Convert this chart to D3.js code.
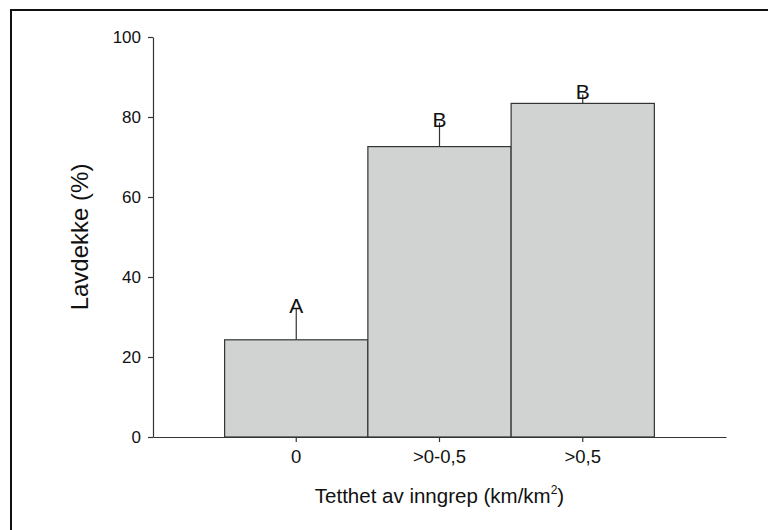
<!DOCTYPE html>
<html>
<head>
<meta charset="utf-8">
<script src="https://cdn.jsdelivr.net/npm/d3@7"></script>
<style>
  html, body { margin: 0; padding: 0; background: #fff; }
  svg { display: block; font-family: "Liberation Sans", Arial, sans-serif; }
</style>
</head>
<body>
<svg id="chart" width="768" height="530"></svg>
<script>
// Lichen cover by density of infrastructure
const categories = ["0", ">0-0,5", ">0,5"];
const means = [24.3, 72.6, 83.4];
const errUpper = [7.7, 6.0, 2.2];
const groupLetters = ["A", "B", "B"];
const yTicks = [0, 20, 40, 60, 80, 100];

const svg = d3.select("#chart");
const W = 768, H = 530;
const plotLeft = 153, plotRight = 726, plotTop = 37, plotBottom = 437;
const fontFam = "Liberation Sans, Arial, sans-serif";

// Outer frame
svg.append("rect")
  .attr("x", 11).attr("y", 10)
  .attr("width", W + 10).attr("height", H + 10)
  .attr("fill", "none").attr("stroke", "#111").attr("stroke-width", 2);

const x = d3.scaleBand().domain(categories).range([plotLeft, plotRight])
  .paddingInner(0).paddingOuter(0.5);
const y = d3.scaleLinear().domain([0, 100]).range([plotBottom, plotTop]);

const ink = "#333";

// Bars
svg.append("g").selectAll("rect").data(categories).join("rect")
  .attr("x", d => x(d))
  .attr("y", (d, i) => y(means[i]))
  .attr("width", x.bandwidth())
  .attr("height", (d, i) => y(0) - y(means[i]))
  .attr("fill", "#d1d3d3")
  .attr("stroke", ink).attr("stroke-width", 1.2);

// Upper error bars
svg.append("g").selectAll("line").data(categories).join("line")
  .attr("x1", d => x(d) + x.bandwidth() / 2)
  .attr("x2", d => x(d) + x.bandwidth() / 2)
  .attr("y1", (d, i) => y(means[i]))
  .attr("y2", (d, i) => y(means[i] + errUpper[i]))
  .attr("stroke", ink).attr("stroke-width", 1.2);

// Group letters
svg.append("g").selectAll("text").data(categories).join("text")
  .attr("x", d => x(d) + x.bandwidth() / 2)
  .attr("y", (d, i) => y(means[i] + errUpper[i]) + 4)
  .attr("text-anchor", "middle")
  .attr("font-family", fontFam)
  .attr("font-size", 21).attr("fill", "#111")
  .text((d, i) => groupLetters[i]);

// Y axis
const yAxis = svg.append("g").attr("transform", `translate(${plotLeft},0)`)
  .call(d3.axisLeft(y).tickValues(yTicks).tickSize(5).tickSizeOuter(0).tickFormat(d3.format("d")));
yAxis.select(".domain").attr("stroke", ink).attr("stroke-width", 1.2);
yAxis.selectAll(".tick line").attr("stroke", ink).attr("stroke-width", 1.2);
yAxis.selectAll(".tick text").attr("font-size", 17).attr("fill", "#111")
  .attr("font-family", fontFam).attr("x", -12);

// X axis
const xAxis = svg.append("g").attr("transform", `translate(0,${plotBottom})`)
  .call(d3.axisBottom(x).tickSize(5).tickSizeOuter(0));
xAxis.select(".domain").attr("stroke", ink).attr("stroke-width", 1.2);
xAxis.selectAll(".tick line").attr("stroke", ink).attr("stroke-width", 1.2);
xAxis.selectAll(".tick text").attr("font-size", 18.5).attr("fill", "#111")
  .attr("font-family", fontFam).attr("y", 13);

// Axis titles
svg.append("text")
  .attr("transform", `translate(88,${(plotTop + plotBottom) / 2}) rotate(-90)`)
  .attr("text-anchor", "middle").attr("font-size", 24).attr("fill", "#111")
  .attr("font-family", fontFam)
  .text("Lavdekke (%)");

const xt = svg.append("text")
  .attr("x", (plotLeft + plotRight) / 2).attr("y", 503)
  .attr("text-anchor", "middle").attr("font-size", 20.5).attr("fill", "#111")
  .attr("font-family", fontFam);
xt.append("tspan").text("Tetthet av inngrep (km/km");
xt.append("tspan").attr("font-size", 12).attr("dy", -9).text("2");
xt.append("tspan").attr("dy", 9).text(")");
</script>
</body>
</html>
